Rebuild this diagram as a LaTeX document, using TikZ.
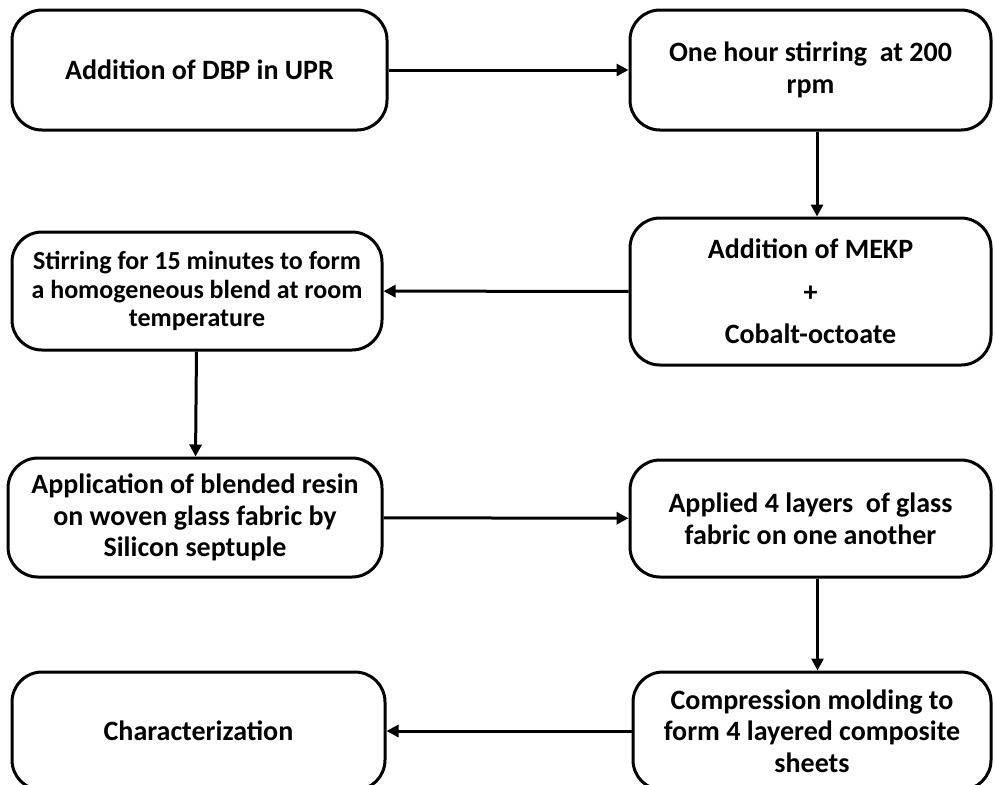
\documentclass[tikz,border=0pt]{standalone}
\usepackage{fontspec}
\setmainfont{Carlito}
\usetikzlibrary{arrows.meta}

\tikzset{
  stage/.style={draw, line width=1.5pt, rounded corners=15pt, align=center,
    font=\fontsize{14}{15.8}\selectfont\bfseries, inner sep=3pt},
  flow/.style={line width=1.5pt, -{Triangle[length=6pt,width=6pt]}}
}

\begin{document}
\begin{tikzpicture}[x=0.5pt,y=-0.5pt]
					\useasboundingbox (0,0) rectangle (995,784);

					\node[stage, minimum width=187.5pt, minimum height=60pt] (add) at (199.5,70) {Addition of DBP in UPR};
					\node[stage, minimum width=180.5pt, minimum height=60pt] (stir) at (810.5,70) {One hour stirring \ at 200\\rpm};
					\node[stage, minimum width=180.5pt, minimum height=73.5pt] (mekp) at (810.5,291.5) {Addition of MEKP\\[5.5pt]+\\[5.5pt]Cobalt-octoate};
					\node[stage, minimum width=185pt, minimum height=59pt, font=\fontsize{13}{14.2}\selectfont\bfseries] (blend) at (197,291) {Stirring for 15 minutes to form\\a homogeneous blend at room\\temperature};
					\node[stage, minimum width=187pt, minimum height=59.5pt] (resin) at (195,517.5) {Application of blended resin\\on woven glass fabric by\\Silicon septuple};
					\node[stage, minimum width=180.5pt, minimum height=58.5pt] (layers) at (810.5,518.5) {Applied 4 layers \ of glass\\fabric on one another};
					\node[stage, minimum width=179pt, minimum height=59pt] (comp) at (812,731) {Compression molding to\\form 4 layered composite\\sheets};
					\node[stage, minimum width=186.5pt, minimum height=59pt] (char) at (198.5,731) {Characterization};

					\draw[flow] (add) -- (stir);
					\draw[flow] ([xshift=3.25pt]stir.south) -- ([xshift=3.25pt]mekp.north);
					\draw[flow] (mekp) -- (blend);
					\draw[flow] (blend) -- (resin);
					\draw[flow] (resin) -- (layers);
					\draw[flow] ([xshift=3.5pt]layers.south) -- ([xshift=2.75pt]comp.north);
					\draw[flow] (comp) -- (char);
				\end{tikzpicture}
\end{document}
